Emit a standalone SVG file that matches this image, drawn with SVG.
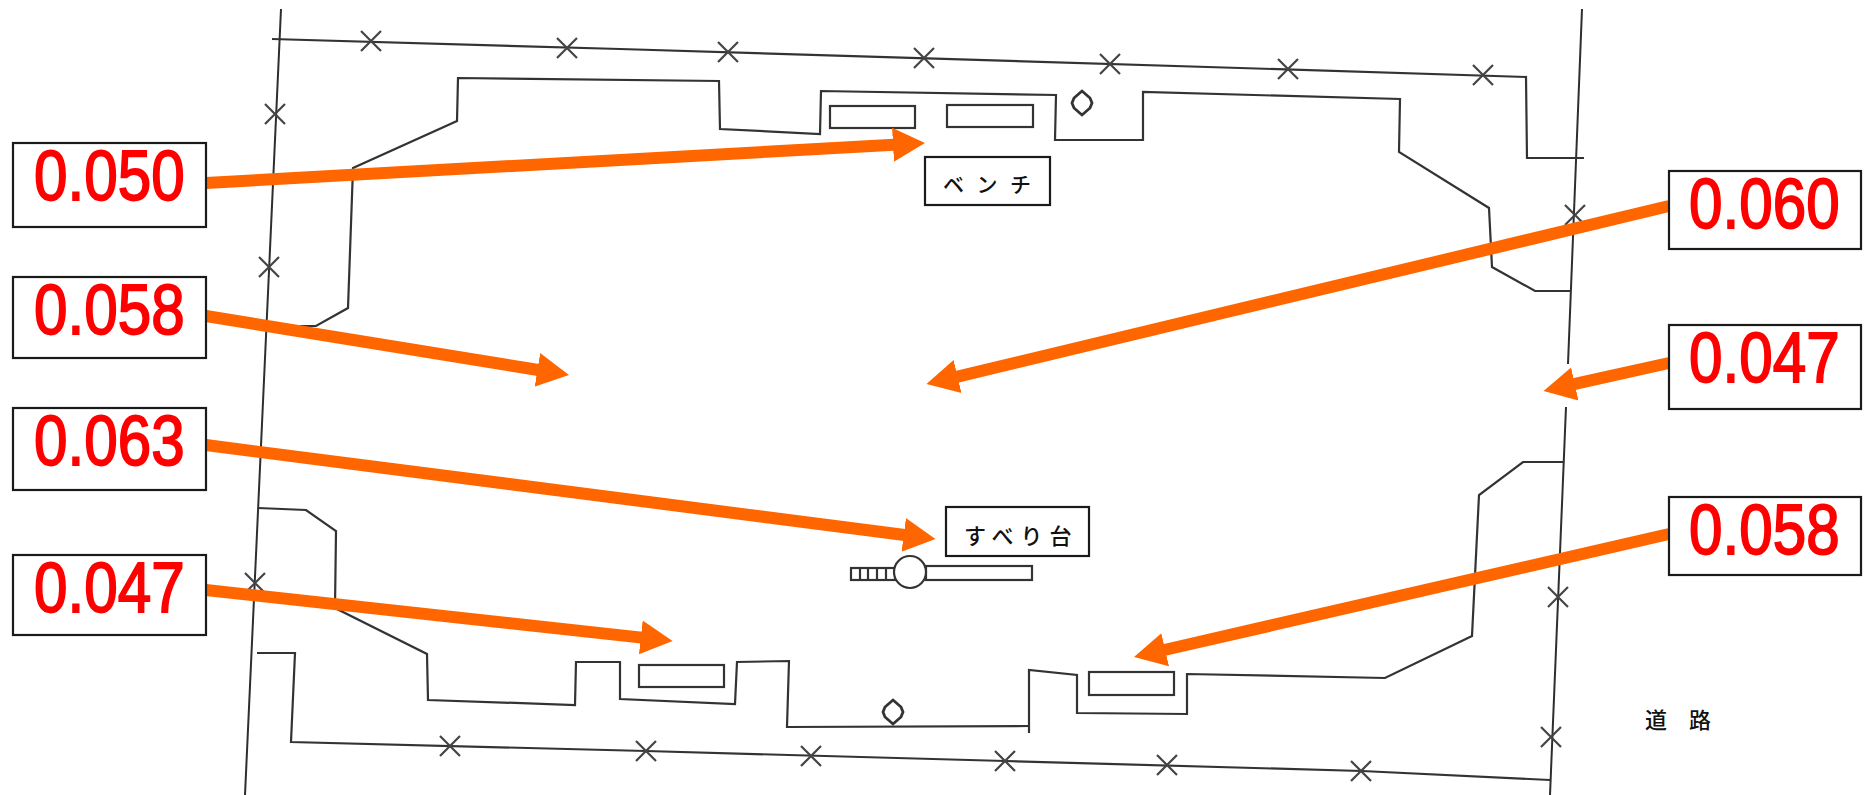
<svg xmlns="http://www.w3.org/2000/svg" width="1865" height="795" viewBox="0 0 1865 795">
<style>
.pl{fill:none;stroke:#333;stroke-width:2.200;stroke-linejoin:miter}
.thin{fill:none;stroke:#2e2e2e;stroke-width:2}
.x{fill:none;stroke:#444;stroke-width:2.200}
.box{fill:#fff;stroke:#1a1a1a;stroke-width:2.200}
.val{font-family:"Liberation Sans",Arial,sans-serif;font-size:70px;fill:#f00;stroke:#f00;stroke-width:1.800}
.lab{font-family:"Noto Sans CJK JP",sans-serif;font-weight:500;fill:#111}
.arr{fill:none;stroke:#f60;stroke-width:12;marker-end:url(#head)}
</style>
<defs>
<marker id="head" markerUnits="userSpaceOnUse" markerWidth="34" markerHeight="36" refX="1" refY="18" orient="auto">
<path d="M0 1 L32 18 L0 35 Z" fill="#f60"/>
</marker>
<path id="c" d="M-10 -10 L10 10 M10 -10 L-10 10"/>
<path id="dia" d="M0 -12 L8 -5 L10 0 L8 5 L0 12 L-8 5 L-10 0 L-8 -5 Z"/>
</defs>
<rect width="1865" height="795" fill="#fff"/>
<g id="plan">
<path class="thin" d="M281 9 L245 795"/>
<path class="thin" d="M1582 9 L1568 364"/>
<path class="thin" d="M1566 407 L1550 795"/>
<path class="pl" d="M272 39 L620 49 L1240 68 L1526 77 L1527 158 L1584 158"/>
<path class="pl" d="M257 653 L295 653 L291 742 L646 751 L1005 761 L1362 771 L1550 780"/>
<path class="pl" d="M300 326 L316 326 L348 308 L353 168 L457 121 L458 78 L719 81 L720 129 L820 134 L821 91 L1056 95 L1055 140 L1143 140 L1143 92 L1400 99 L1399 152 L1489 208 L1492 267 L1535 291 L1571 291"/>
<path class="pl" d="M258 508 L306 510 L336 531 L335 608 L427 654 L428 700 L575 705 L576 662 L620 662 L620 699 L735 704 L737 662 L789 661 L787 727 L1029 726"/>
<path class="pl" d="M1029 733 L1029 670 L1077 675 L1077 713 L1187 714 L1187 674 L1385 678 L1472 636 L1479 495 L1523 462 L1564 462"/>
<g class="x">
<use href="#c" x="371" y="41"/><use href="#c" x="567" y="48"/><use href="#c" x="728" y="52"/><use href="#c" x="924" y="58"/><use href="#c" x="1110" y="64"/><use href="#c" x="1288" y="69"/><use href="#c" x="1483" y="75"/>
<use href="#c" x="275" y="114"/><use href="#c" x="269" y="267"/><use href="#c" x="255" y="583"/>
<use href="#c" x="1575" y="215"/><use href="#c" x="1558" y="597"/><use href="#c" x="1551" y="737"/>
<use href="#c" x="450" y="746"/><use href="#c" x="646" y="751"/><use href="#c" x="811" y="756"/><use href="#c" x="1005" y="761"/><use href="#c" x="1167" y="765"/><use href="#c" x="1361" y="771"/>
</g>
<g class="pl">
<rect x="830" y="106" width="85" height="22"/>
<rect x="947" y="105" width="86" height="22"/>
<rect x="639" y="665" width="85" height="22"/>
<rect x="1089" y="672" width="85" height="23"/>
<use href="#dia" x="1082" y="103" style="stroke-width:2.800"/>
<use href="#dia" x="893" y="712" style="stroke-width:2.800"/>
</g>
<g id="slide" class="pl">
<rect x="851" y="568" width="44" height="12"/>
<path d="M860 568 V580 M868 568 V580 M877 568 V580 M886 568 V580"/>
<rect x="926" y="566" width="106" height="14"/>
<circle cx="910" cy="572" r="16" fill="#fff"/>
</g>
</g>
<g id="connectors">
<path class="arr" d="M206 183 L894 144.700"/>
<path class="arr" d="M206 316 L538.400 370"/>
<path class="arr" d="M206 445 L904.700 535"/>
<path class="arr" d="M206 590 L641.800 637.600"/>
<path class="arr" d="M1669 206 L956.600 376.800"/>
<path class="arr" d="M1669 363 L1573.800 384.200"/>
<path class="arr" d="M1669 534 L1164.200 650"/>
</g>
<g id="label-bench">
<rect class="box" x="925" y="157" width="125" height="48"/>
<text class="lab" x="943" y="192" font-size="21" letter-spacing="12.500">ベンチ</text>
</g>
<g id="label-slide">
<rect class="box" x="946" y="507" width="143" height="49"/>
<text class="lab" x="964" y="544" font-size="22" letter-spacing="7">すべり台</text>
</g>
<g id="label-road">
<text class="lab" x="1645" y="728" font-size="22">道　路</text>
</g>
<g id="v1"><rect class="box" x="13" y="143" width="193" height="84"/><text class="val" transform="translate(34 200) scale(.86 1)">0.050</text></g>
<g id="v2"><rect class="box" x="13" y="277" width="193" height="81"/><text class="val" transform="translate(34 334) scale(.86 1)">0.058</text></g>
<g id="v3"><rect class="box" x="13" y="408" width="193" height="82"/><text class="val" transform="translate(34 465) scale(.86 1)">0.063</text></g>
<g id="v4"><rect class="box" x="13" y="555" width="193" height="80"/><text class="val" transform="translate(34 612) scale(.86 1)">0.047</text></g>
<g id="v5"><rect class="box" x="1669" y="171" width="192" height="78"/><text class="val" transform="translate(1689 228) scale(.86 1)">0.060</text></g>
<g id="v6"><rect class="box" x="1669" y="325" width="192" height="84"/><text class="val" transform="translate(1689 382) scale(.86 1)">0.047</text></g>
<g id="v7"><rect class="box" x="1669" y="497" width="192" height="78"/><text class="val" transform="translate(1689 554) scale(.86 1)">0.058</text></g>
</svg>
